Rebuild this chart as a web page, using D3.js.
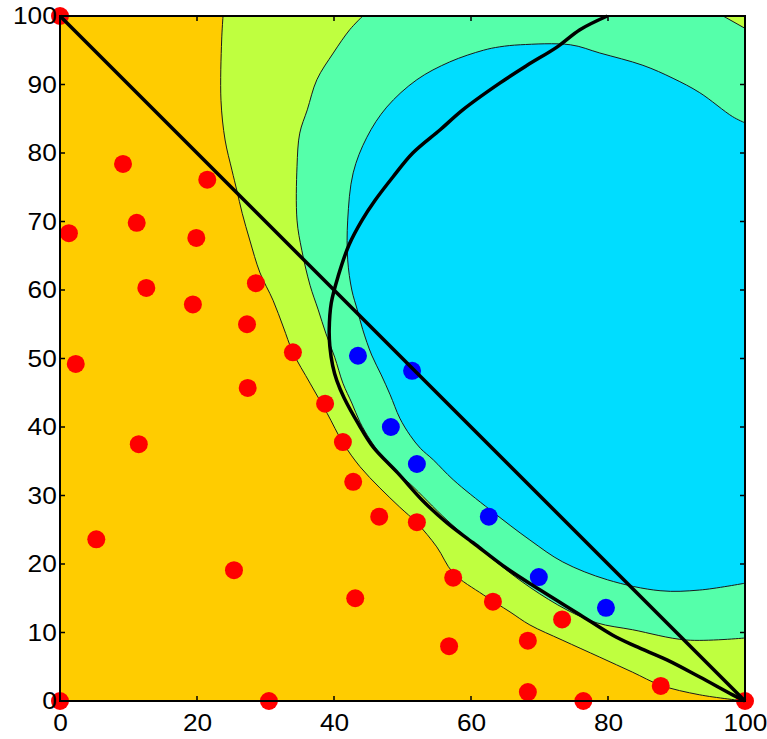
<!DOCTYPE html>
<html><head><meta charset="utf-8">
<script src="https://cdn.jsdelivr.net/npm/d3@7"></script>
<style>
html,body{margin:0;padding:0;background:#fff;}
svg{display:block;}
text{font-family:"Liberation Sans",Arial,sans-serif;}
</style></head>
<body>
<svg id="chart" width="767" height="739"></svg>
<script>
// ---- data (all in data units, 0..100) ----
const xTicks = [0, 20, 40, 60, 80, 100];
const yTicks = [0, 10, 20, 30, 40, 50, 60, 70, 80, 90, 100];

const levelColors = ["#FFCC00", "#BFFF3F", "#55FFAA", "#00DDFF"];

// contour: orange | yellow-green
const contour1 = [[23.8,100],[23.6,96.5],[23.5,87.7],[24.1,81.9],[25.1,77.5],[25.8,74.6],[26.6,71.2],[27.7,67.3],[29.2,62.5],[31.1,58.5],[32.6,54.6],[34.0,50.9],[36.5,46.4],[39.0,42.0],[41.3,37.7],[43.8,34.2],[46.7,31.1],[49.6,28.3],[52.1,26.0],[55.0,22.5],[57.4,18.7],[61.8,15.5],[65.7,13.0],[68.6,11.1],[73.3,8.9],[78.8,6.4],[83.6,4.2],[87.7,2.3],[93.4,0.9],[100,0]];
// contour: yellow-green | aquamarine
const contour2 = [[44.2,100],[42.3,98.0],[39.9,94.6],[37.5,90.7],[36.1,86.3],[35.0,82.9],[34.6,78.0],[34.6,70.2],[35.3,65.8],[36.5,60.7],[37.7,57.1],[38.8,53.7],[40.1,50.2],[41.3,46.4],[42.6,43.5],[43.8,40.7],[45.3,38.1],[48.2,34.2],[51.1,31.7],[56.5,26.4],[62.8,21.0],[68.6,16.6],[74.0,13.3],[78.4,11.4],[83.6,10.4],[91.5,8.9],[100,9.2]];
// small yellow-green corner at top right
const contour2Corner = [[96.8,100],[100,98.2]];
// contour: aquamarine | cyan
const contour3 = [[100,84.4],[98.2,85.3],[93.4,88.8],[89.5,90.9],[85.1,92.8],[78.8,94.6],[74.5,95.8],[67.2,95.8],[64.2,95.5],[61.8,95.0],[56.9,93.3],[52.1,90.7],[47.7,86.7],[44.8,82.3],[42.8,77.1],[42.0,70.2],[42.0,64.4],[42.6,60.0],[43.4,57.1],[44.2,54.2],[45.5,50.5],[46.9,47.6],[48.2,44.7],[49.6,41.3],[51.1,38.8],[52.6,36.9],[54.5,35.2],[57.4,32.3],[62.8,27.9],[68.6,23.5],[73.4,20.3],[79.9,17.7],[87.6,16.1],[93.4,16.2],[100,17.2]];

// decision boundary (thick black curve)
const boundary = [[79.9,100],[75.9,98.0],[72.6,95.5],[68.2,92.8],[64.2,90.2],[58.8,86.3],[55.5,83.4],[51.5,80.0],[48.6,76.5],[46.0,73.1],[44.1,70.2],[42.2,66.6],[40.6,62.0],[39.6,58.1],[39.3,54.2],[39.4,51.7],[39.8,49.0],[40.4,46.8],[41.5,44.2],[43.6,40.4],[45.7,37.1],[49.3,33.3],[53.0,29.2],[56.5,26.0],[60.3,23.1],[65.3,19.3],[70.1,16.2],[75.9,12.6],[80.7,9.6],[84.0,8.0],[88.6,6.0],[93.4,3.5],[98.2,0.9],[100,0]];
// straight diagonal
const diagonal = [[0,100],[100,0]];

// class 1 (red) points
const redX = [0,9.2,21.5,1.3,11.2,19.9,28.6,12.6,19.4,27.3,34.0,2.3,27.4,38.7,11.5,41.3,42.8,46.6,52.1,5.3,25.4,57.4,43.1,63.2,73.3,68.3,56.8,87.7,68.3,76.4,30.5,0,100];
const redY = [100,78.4,76.1,68.3,69.8,67.6,61.0,60.3,57.9,55.0,50.9,49.2,45.7,43.4,37.5,37.8,32.0,26.9,26.1,23.6,19.1,18.0,15.0,14.5,11.9,8.8,8.0,2.2,1.3,0,0,0,0];
// class 2 (blue) points
const blueX = [43.5,51.4,48.3,52.1,62.6,69.9,79.7];
const blueY = [50.4,48.2,40.0,34.6,26.9,18.1,13.6];

// ---- drawing ----
const svg = d3.select("#chart");
const L = 60, R = 745, T = 16, B = 701;
const x = d3.scaleLinear().domain([0,100]).range([L,R]);
const y = d3.scaleLinear().domain([0,100]).range([B,T]);
const line = d3.line().x(d => x(d[0])).y(d => y(d[1])).curve(d3.curveCatmullRom.alpha(0.5));
const straight = d3.line().x(d => x(d[0])).y(d => y(d[1]));

const g = svg.append("g");
g.append("defs").append("clipPath").attr("id","clip")
  .append("rect").attr("x",L).attr("y",T).attr("width",R-L).attr("height",B-T);
const plot = g.append("g").attr("clip-path","url(#clip)");

// level 0 background
plot.append("rect").attr("x",x(0)).attr("y",y(100)).attr("width",x(100)-x(0)).attr("height",y(0)-y(100)).attr("fill",levelColors[0]);
// level 1 region: right of contour1
plot.append("path").attr("d", line(contour1) + straight([[100,0],[100,100]]).replace("M","L") + "Z").attr("fill", levelColors[1]);
// level 2 region: right of contour2, minus corner
plot.append("path").attr("d", line(contour2) + straight([[100,9.2],[100,98.2],[96.8,100]]).replace("M","L") + "Z").attr("fill", levelColors[2]);
// level 3 region
plot.append("path").attr("d", line(contour3) + "Z").attr("fill", levelColors[3]);

// contour lines
[contour1, contour2, contour2Corner, contour3].forEach(c => {
  plot.append("path").attr("d", line(c)).attr("fill","none").attr("stroke","#1a1a1a").attr("stroke-width",1);
});

// points
g.selectAll("circle.red").data(redX.map((v,i)=>[v,redY[i]])).enter().append("circle")
  .attr("cx",d=>x(d[0])).attr("cy",d=>y(d[1])).attr("r",9).attr("fill","#FF0000");
g.selectAll("circle.blue").data(blueX.map((v,i)=>[v,blueY[i]])).enter().append("circle")
  .attr("cx",d=>x(d[0])).attr("cy",d=>y(d[1])).attr("r",9).attr("fill","#0000FF");

// thick lines
g.append("path").attr("d", straight(diagonal)).attr("fill","none").attr("stroke","#000").attr("stroke-width",3.5);
g.append("path").attr("d", line(boundary)).attr("fill","none").attr("stroke","#000").attr("stroke-width",3.5).attr("stroke-linejoin","round");

// axes
const tickLen = 5;
const xAxisB = d3.axisBottom(x).tickValues(xTicks).tickSize(0).tickPadding(13);
const yAxisL = d3.axisLeft(y).tickValues(yTicks).tickSize(0).tickPadding(8);
const gx = g.append("g").attr("transform",`translate(0,${B})`).call(xAxisB);
const gy = g.append("g").attr("transform",`translate(${L},0)`).call(yAxisL);
[gx, gy].forEach(a => {
  a.select(".domain").remove();
  a.selectAll("text").attr("font-size",24).attr("fill","#000")
    .attr("font-family","'Liberation Sans',Arial,sans-serif")
    .attr("textLength", function(){ return this.textContent.length * 14.6; })
    .attr("lengthAdjust","spacingAndGlyphs");
});
gy.selectAll("text").attr("dx","0.2em");
// inward ticks on all four sides
xTicks.forEach(v => {
  g.append("line").attr("x1",x(v)).attr("x2",x(v)).attr("y1",B).attr("y2",B-tickLen).attr("stroke","#000").attr("stroke-width",1.5);
  g.append("line").attr("x1",x(v)).attr("x2",x(v)).attr("y1",T).attr("y2",T+tickLen).attr("stroke","#000").attr("stroke-width",1.5);
});
yTicks.forEach(v => {
  g.append("line").attr("x1",L).attr("x2",L+tickLen).attr("y1",y(v)).attr("y2",y(v)).attr("stroke","#000").attr("stroke-width",1.5);
  g.append("line").attr("x1",R).attr("x2",R-tickLen).attr("y1",y(v)).attr("y2",y(v)).attr("stroke","#000").attr("stroke-width",1.5);
});
// frame
g.append("rect").attr("x",L).attr("y",T).attr("width",R-L).attr("height",B-T).attr("fill","none").attr("stroke","#000").attr("stroke-width",2);
</script>
</body></html>
